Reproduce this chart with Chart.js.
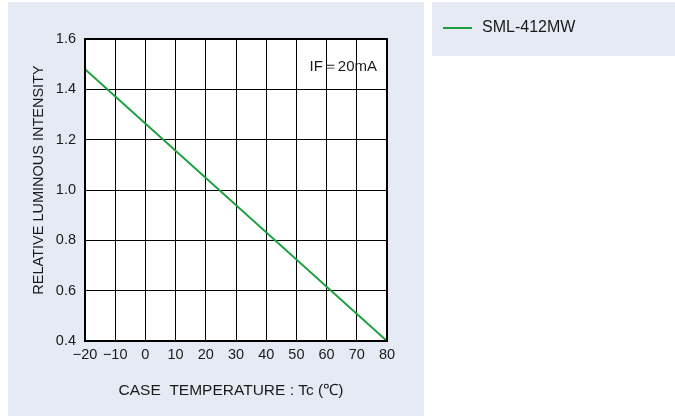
<!DOCTYPE html>
<html>
<head>
<meta charset="utf-8">
<script src="https://cdn.jsdelivr.net/npm/chart.js@4"></script>
<style>
  body { margin: 0; background: #fff; }
  canvas { display: block; }
</style>
</head>
<body>
<canvas id="ledChart" width="675" height="416"></canvas>
<script>
// values
var temps = [-20, 80];
var intensity = [1.48, 0.40];
var seriesName = 'SML-412MW';
var xTitle = 'CASE  TEMPERATURE : Tc (\u2103)';
var yTitle = 'RELATIVE LUMINOUS INTENSITY';
var note = 'IF\uFF1D20mA';

var green = '#19a03c';
var panel = '#e5eaf5';
var fam = '"Liberation Sans", Arial, sans-serif';

Chart.defaults.font.family = fam;
Chart.defaults.color = '#1a1a1a';

var decor = {
  id: 'decor',
  beforeDraw: function (chart) {
    var c = chart.ctx, a = chart.chartArea;
    c.save();
    c.fillStyle = '#fff';
    c.fillRect(0, 0, chart.width, chart.height);
    c.fillStyle = panel;
    c.fillRect(8, 2, 416, 414);
    c.fillRect(432, 2, 243, 54);
    c.fillStyle = '#fff';
    c.fillRect(a.left, a.top, a.right - a.left, a.bottom - a.top);
    c.restore();
  },
  afterDraw: function (chart) {
    var c = chart.ctx, a = chart.chartArea;
    c.save();
    // frame
    c.strokeStyle = '#000';
    c.lineWidth = 2;
    c.strokeRect(a.left, a.top, a.right - a.left, a.bottom - a.top);
    // note
    c.fillStyle = '#1a1a1a';
    c.font = '15px ' + fam;
    c.textAlign = 'right';
    c.textBaseline = 'middle';
    c.fillText(note, 377, 67);
    // axis titles
    c.textAlign = 'center';
    c.font = '15.5px ' + fam;
    c.fillText(xTitle, 231, 391);
    c.font = '14.5px ' + fam;
    c.translate(39, 180);
    c.rotate(-Math.PI / 2);
    c.fillText(yTitle, 0, 0);
    c.restore();
    // legend
    c.save();
    c.strokeStyle = green;
    c.lineWidth = 2;
    c.beginPath();
    c.moveTo(443, 28);
    c.lineTo(472, 28);
    c.stroke();
    c.fillStyle = '#1a1a1a';
    c.font = '16px ' + fam;
    c.textBaseline = 'middle';
    c.fillText(seriesName, 482, 28);
    c.restore();
  }
};

var ctx = document.getElementById('ledChart');
new Chart(ctx, {
  type: 'line',
  data: {
    datasets: [{
      label: seriesName,
      data: temps.map(function (t, i) { return { x: t, y: intensity[i] }; }),
      borderColor: green,
      borderWidth: 2,
      pointRadius: 0,
      fill: false,
      tension: 0
    }]
  },
  options: {
    responsive: false,
    animation: false,
    layout: { padding: { left: 8, top: 39, right: 288, bottom: 0 } },
    plugins: { legend: { display: false }, tooltip: { enabled: false } },
    scales: {
      x: {
        type: 'linear',
        min: -20,
        max: 80,
        afterFit: function (s) { s.height = 75; },
        grid: { color: '#000', lineWidth: 1, drawTicks: false },
        border: { color: '#000', width: 2 },
        ticks: {
          stepSize: 10,
          padding: 5,
          autoSkip: false,
          maxRotation: 0,
          minRotation: 0,
          font: { size: 14.5 },
          callback: function (v) { return v < 0 ? '\u2212' + Math.abs(v) : String(v); }
        }
      },
      y: {
        min: 0.4,
        max: 1.6,
        afterFit: function (s) { s.width = 77; },
        grid: { color: '#000', lineWidth: 1, drawTicks: false },
        border: { color: '#000', width: 2 },
        ticks: {
          stepSize: 0.2,
          padding: 9,
          font: { size: 14.5 },
          callback: function (v) { return Number(v).toFixed(1); }
        }
      }
    }
  },
  plugins: [decor]
});
</script>
</body>
</html>
